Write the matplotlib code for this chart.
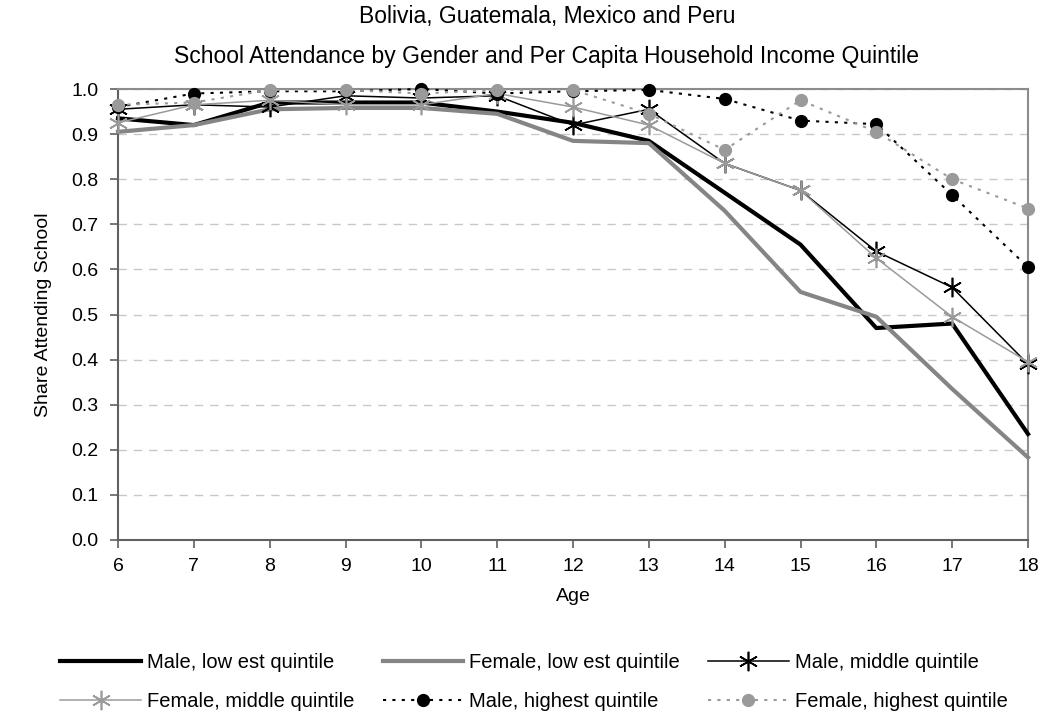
import numpy as np
import matplotlib.pyplot as plt

plt.rcParams['font.family'] = ['Liberation Sans', 'DejaVu Sans']

ages = list(range(6, 19))

male_low = [0.935, 0.92, 0.97, 0.97, 0.97, 0.95, 0.925, 0.885, 0.77, 0.655, 0.47, 0.48, 0.235]
female_low = [0.905, 0.92, 0.955, 0.958, 0.958, 0.945, 0.885, 0.88, 0.73, 0.55, 0.495, 0.335, 0.183]
male_mid = [0.955, 0.965, 0.96, 0.985, 0.98, 0.985, 0.92, 0.955, 0.835, 0.775, 0.64, 0.56, 0.39]
female_mid = [0.925, 0.965, 0.975, 0.965, 0.965, 0.99, 0.96, 0.92, 0.835, 0.775, 0.625, 0.495, 0.395]
male_high = [0.96, 0.99, 0.995, 0.995, 1.0, 0.99, 0.995, 0.998, 0.978, 0.93, 0.922, 0.765, 0.605]
female_high = [0.965, 0.97, 0.998, 0.998, 0.99, 0.998, 0.998, 0.945, 0.865, 0.975, 0.905, 0.8, 0.735]

labels = ['Male, low est quintile', 'Female, low est quintile', 'Male, middle quintile',
          'Female, middle quintile', 'Male, highest quintile', 'Female, highest quintile']

grey = '#8c8c8c'
light = '#9a9a9a'
star = (6, 2, 0)
dots = (0, (1.5, 3))

fig = plt.figure(figsize=(10.47, 7.19), dpi=100)
# plot area in pixels: x 118..1028, y 89..540
ax = fig.add_axes([118 / 1047, 1 - 540 / 719, 910 / 1047, 451 / 719])

ax.plot(ages, male_low, color='black', lw=3, label=labels[0], zorder=3, clip_on=False)
ax.plot(ages, female_low, color='#858585', lw=3, label=labels[1], zorder=3, clip_on=False)
ax.plot(ages, male_mid, color='black', lw=1.1, marker=star, ms=14, mew=1.2,
        label=labels[2], zorder=4, clip_on=False)
ax.plot(ages, female_mid, color=light, lw=1.1, marker=star, ms=14, mew=1.2,
        label=labels[3], zorder=4, clip_on=False)
ax.plot(ages, male_high, color='black', lw=1.5, ls=dots, marker='o', ms=8.5,
        label=labels[4], zorder=5, clip_on=False)
ax.plot(ages, female_high, color=light, lw=1.5, ls=dots, marker='o', ms=8.5,
        label=labels[5], zorder=5, clip_on=False)

ax.set_xlim(6, 18)
ax.set_ylim(0, 1.0)
ax.set_xticks(ages)
yt = np.arange(0, 1.01, 0.1)
ax.set_yticks(yt)
ax.set_yticklabels([f'{v:.1f}' for v in yt])
ax.yaxis.grid(True, ls=(0, (6, 5)), color='#c8c8c8', lw=1)
ax.set_axisbelow(True)
for s in ax.spines.values():
    s.set_color(grey)
    s.set_linewidth(1.5)
ax.spines['left'].set_color('#606060')
ax.spines['bottom'].set_color('#606060')
ax.tick_params(labelsize=14, length=6, color='#606060', width=1.2)
ax.tick_params(axis='x', pad=7)
ax.tick_params(axis='y', pad=8)

ax.set_xlabel('Age', fontsize=14, labelpad=9)
ax.set_ylabel('Share Attending School', fontsize=14, labelpad=14)
fig.text(547 / 1047, 1 - 17 / 719, 'Bolivia, Guatemala, Mexico and Peru', ha='center',
         va='center', fontsize=16.5)
fig.text(547 / 1047, 1 - 56 / 719,
         'School Attendance by Gender and Per Capita Household Income Quintile',
         ha='center', va='center', fontsize=16.5)

# legend is filled row by row in the reference
handles, labs = ax.get_legend_handles_labels()
order = [0, 3, 1, 4, 2, 5]
fig.legend([handles[i] for i in order], [labs[i] for i in order],
           loc='center', bbox_to_anchor=(0.51, 1 - 682 / 719), ncol=3, frameon=False,
           fontsize=14.5, handlelength=4.0, handletextpad=0.3, columnspacing=1.4,
           labelspacing=1.0)

fig.savefig('out.png', dpi=100)
